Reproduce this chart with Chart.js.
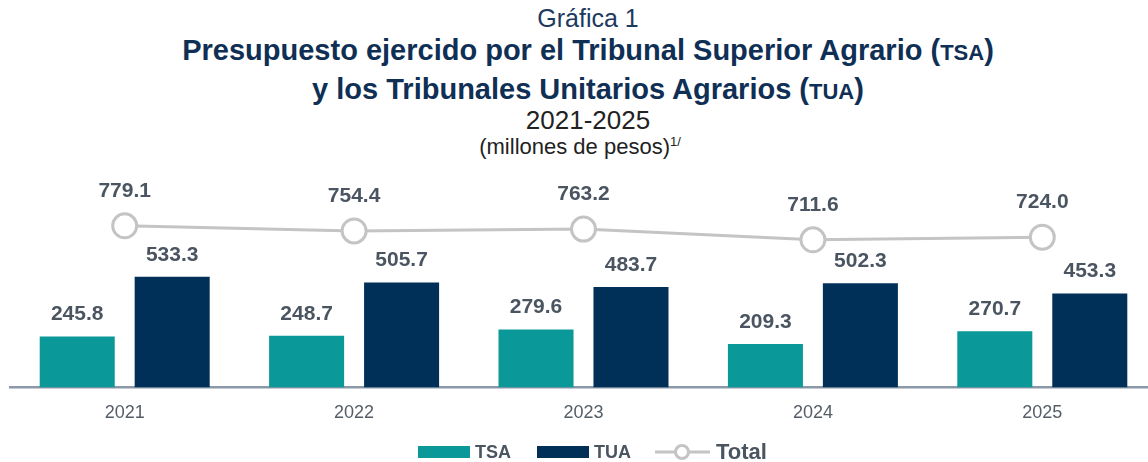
<!DOCTYPE html>
<html>
<head>
<meta charset="utf-8">
<script src="https://cdn.jsdelivr.net/npm/chart.js@4"></script>
<style>
  html, body { margin: 0; padding: 0; background: #fff; overflow: hidden; }
  body { width: 1148px; height: 462px; position: relative; font-family: "Liberation Sans", Arial, sans-serif; }
  .t { position: absolute; left: 0; width: 1176px; text-align: center; white-space: nowrap; }
  #t1 { top: 4px; font-size: 25px; line-height: 28px; color: #1c3a5e; }
  #t2 { top: 32px; font-size: 29px; font-weight: bold; color: #0f2f55; line-height: 37px; }
  #t2 small { font-size: 22px; }
  #t3 { top: 105px; font-size: 26px; line-height: 30px; color: #222; }
  #t4 { top: 134px; width: 1160px; font-size: 22px; line-height: 26px; color: #222; }
  #t4 sup { font-size: 13px; line-height: 0; }
  #wrap { position: absolute; left: -5px; top: 0; width: 1177px; height: 450px; }
  #legend { position: absolute; top: 441px; left: 0; width: 1148px; height: 22px; }
  .sw { position: absolute; top: 5px; width: 52px; height: 12px; }
  .lt { position: absolute; font-weight: bold; color: #4b5561; }
</style>
</head>
<body>
<div class="t" id="t1">Gráfica 1</div>
<div class="t" id="t2">Presupuesto ejercido por el Tribunal Superior Agrario (<small>TSA</small>)<br>y los Tribunales Unitarios Agrarios (<small>TUA</small>)</div>
<div class="t" id="t3">2021-2025</div>
<div class="t" id="t4">(millones de pesos)<sup>1/</sup></div>
<div id="wrap"><canvas id="chart"></canvas></div>
<div id="legend">
  <div class="sw" style="left:418px;background:#0a9898"></div>
  <div class="lt" style="left:475px;top:1px;font-size:18px">TSA</div>
  <div class="sw" style="left:537px;background:#003058"></div>
  <div class="lt" style="left:594px;top:1px;font-size:18px">TUA</div>
  <svg style="position:absolute;left:654px;top:0" width="58" height="22">
    <line x1="1" y1="11" x2="56" y2="11" stroke="#c4c4c4" stroke-width="3"/>
    <circle cx="28" cy="11" r="6.5" fill="#fff" stroke="#c4c4c4" stroke-width="3"/>
  </svg>
  <div class="lt" style="left:716px;top:-2px;font-size:22px">Total</div>
</div>
<script>
const years = ['2021', '2022', '2023', '2024', '2025'];
const tsa = [245.8, 248.7, 279.6, 209.3, 270.7];
const tua = [533.3, 505.7, 483.7, 502.3, 453.3];
const total = [779.1, 754.4, 763.2, 711.6, 724.0];

const valueLabels = {
    id: 'valueLabels',
    afterDatasetsDraw(chart) {
        const ctx = chart.ctx;
        ctx.save();
        ctx.font = 'bold 21px "Liberation Sans", Arial, sans-serif';
        ctx.fillStyle = '#4b5561';
        ctx.textAlign = 'center';
        ctx.textBaseline = 'middle';
        chart.data.datasets.forEach(function (ds, i) {
            const meta = chart.getDatasetMeta(i);
            const off = ds.type === 'line' ? 35 : 22;
            meta.data.forEach(function (el, j) {
                ctx.fillText(ds.data[j].toFixed(1), el.x, el.y - off);
            });
        });
        ctx.restore();
    }
};

new Chart(document.getElementById('chart'), {
    data: {
        labels: years,
        datasets: [
            { type: 'line', label: 'Total', data: total, borderColor: '#c4c4c4', borderWidth: 3,
              pointRadius: 12, pointBorderWidth: 3, pointBackgroundColor: '#fff', pointBorderColor: '#c4c4c4',
              order: 0 },
            { type: 'bar', label: 'TSA', data: tsa, backgroundColor: '#0a9898', order: 1,
              categoryPercentage: 0.828, barPercentage: 0.79 },
            { type: 'bar', label: 'TUA', data: tua, backgroundColor: '#003058', order: 1,
              categoryPercentage: 0.828, barPercentage: 0.79 }
        ]
    },
    options: {
        responsive: true,
        maintainAspectRatio: false,
        animation: false,
        layout: { padding: { top: 180, left: 0, right: 0, bottom: 19 } },
        plugins: { legend: { display: false }, tooltip: { enabled: false } },
        scales: {
            x: {
                grid: { display: false },
                border: { color: '#8a98a8', width: 2.5 },
                ticks: { color: '#555d66', font: { size: 18, family: '"Liberation Sans", Arial, sans-serif' }, padding: 7 }
            },
            y: { display: false, min: 0, max: 1000 }
        }
    },
    plugins: [valueLabels]
});
</script>
</body>
</html>
